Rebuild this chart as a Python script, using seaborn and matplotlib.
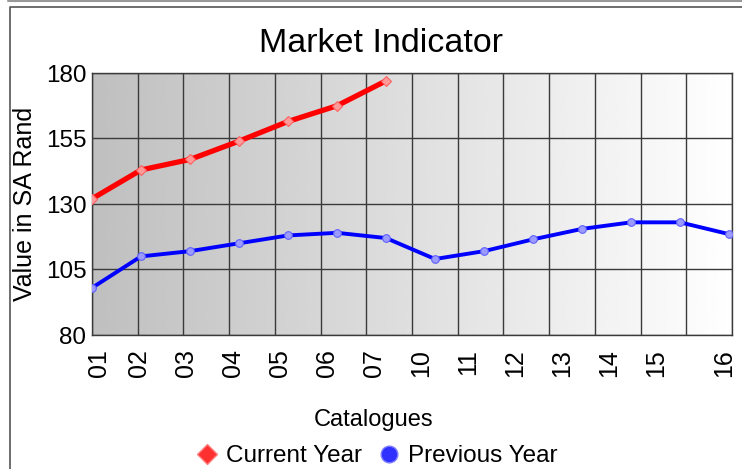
import numpy as np
import pandas as pd
import matplotlib
matplotlib.use("Agg")
import matplotlib.pyplot as plt
import seaborn as sns
from matplotlib.lines import Line2D

categories = ["01", "02", "03", "04", "05", "06", "07", "10", "11", "12", "13", "14", "15", "16"]
current_year = [132, 143, 147, 154, 161.5, 167.5, 177]
previous_year = [98, 110, 112, 115, 118, 119, 117, 109, 112, 116.5, 120.5, 123, 123, 118.5]
y_ticks = [80, 105, 130, 155, 180]

sns.set_theme(style="white")
plt.rcParams["font.family"] = ["Liberation Sans", "DejaVu Sans"]
plt.rcParams["text.color"] = "black"
plt.rcParams["axes.labelcolor"] = "black"

df = pd.concat([
    pd.DataFrame({"idx": range(len(current_year)), "value": current_year, "series": "Current Year"}),
    pd.DataFrame({"idx": range(len(previous_year)), "value": previous_year, "series": "Previous Year"}),
])

fig = plt.figure(figsize=(7.42, 4.69), dpi=100)
ax = fig.add_axes([92 / 742, 1 - 335 / 469, 640 / 742, 262 / 469])

n = len(categories)
xmax = (n - 1) * 640 / 637
ax.set_xlim(0, xmax)
ax.set_ylim(80, 180)

# gradient background
grad = np.linspace(0.75, 1.0, 256).reshape(1, -1)
ax.imshow(grad, extent=[0, xmax, 80, 180], aspect="auto", cmap="gray",
          vmin=0, vmax=1, zorder=0, interpolation="bicubic")

# grid
for k in range(15):
    ax.axvline(k * xmax / 14, color="#3a3a3a", lw=1.0, zorder=1)
for t in y_ticks:
    ax.axhline(t, color="#3a3a3a", lw=1.0, zorder=1)

sns.lineplot(data=df[df.series == "Current Year"], x="idx", y="value", color="#ff0000",
             lw=3.8, marker="D", markersize=5, markerfacecolor="#ff9a9a",
             markeredgecolor="#ff6060", markeredgewidth=0.8, ax=ax, zorder=3, legend=False)
sns.lineplot(data=df[df.series == "Previous Year"], x="idx", y="value", color="#0000ff",
             lw=2.8, marker="o", markersize=5.5, markerfacecolor="#9a9aff",
             markeredgecolor="#6060ff", markeredgewidth=0.8, ax=ax, zorder=3, legend=False)

ax.set_yticks(y_ticks)
ax.set_yticklabels([str(t) for t in y_ticks], fontsize=17.5)
tick_pos = [0.15] + [0.96 * k for k in range(1, n - 1)] + [12.9]
ax.set_xticks(tick_pos)
ax.set_xticklabels(categories, rotation=90, fontsize=18)
ax.tick_params(axis="y", length=0, pad=4, colors="black")
ax.tick_params(axis="x", length=0, pad=10, colors="black")
for s in ax.spines.values():
    s.set_color("#3a3a3a")
    s.set_linewidth(1.0)

ax.set_xlabel("")
ax.set_ylabel("Value in SA Rand", fontsize=18, labelpad=6)
fig.text(374 / 742, 1 - 420 / 469, "Catalogues", fontsize=17, ha="center", va="center")

fig.text(381 / 742, 1 - 44 / 469, "Market Indicator", fontsize=24.5, ha="center", va="center")

handles = [
    Line2D([], [], ls="none", marker="D", markersize=10, markerfacecolor="#ff3030",
           markeredgecolor="#ff8080"),
    Line2D([], [], ls="none", marker="o", markersize=12, markerfacecolor="#3030ff",
           markeredgecolor="#8080ff"),
]
fig.legend(handles, ["Current Year", "Previous Year"], loc="center",
           bbox_to_anchor=(376 / 742, 1 - 456 / 469), ncol=2, frameon=False,
           fontsize=17.5, handlelength=1.0, handletextpad=0.3, columnspacing=0.6)

# outer frame lines
fig.add_artist(Line2D([8 / 742, 1], [1 - 1 / 469, 1 - 1 / 469], color="#999999", lw=1.5))
fig.add_artist(Line2D([10 / 742, 10 / 742, 1], [0, 1 - 7 / 469, 1 - 7 / 469], color="#555555", lw=1.2))

fig.savefig("out.png", dpi=100)
